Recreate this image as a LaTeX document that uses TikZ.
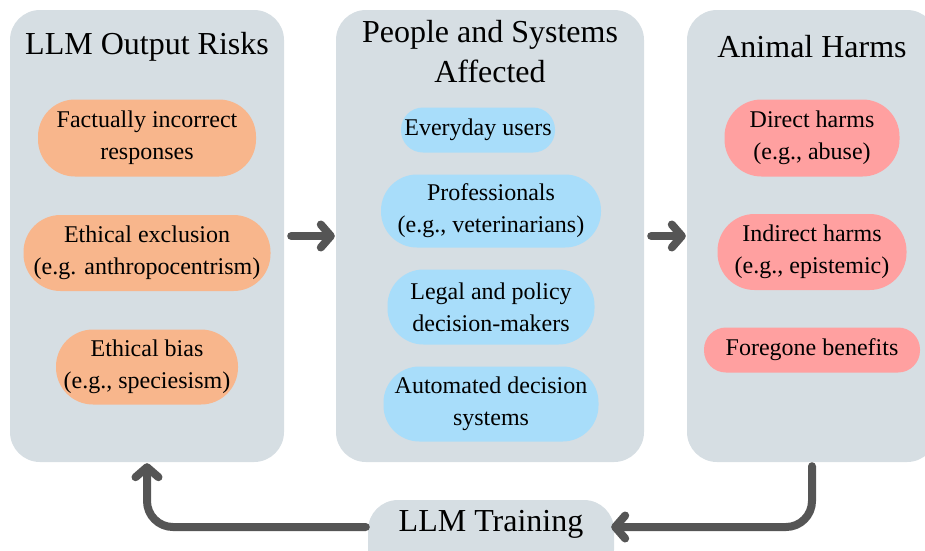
\documentclass[tikz,border=0pt]{standalone}
\usepackage{fontspec}
\setmainfont{Liberation Serif}
\newfontfamily\diagfont{Liberation Serif}
\usetikzlibrary{arrows.meta}
\definecolor{panelc}{RGB}{214,222,227}
\definecolor{orangec}{RGB}{248,182,140}
\definecolor{bluec}{RGB}{168,221,250}
\definecolor{pinkc}{RGB}{255,160,160}
\definecolor{arrc}{RGB}{85,85,85}
\tikzset{
  panelbox/.style={fill=panelc, rounded corners=30pt, inner sep=0pt},
  titletext/.style={font=\diagfont\fontsize{32}{40}\selectfont, align=center, inner sep=0pt},
  pill/.style={inner sep=0pt, align=center, font=\diagfont\fontsize{24}{32}\selectfont},
  orangepill/.style={pill, rounded corners=37pt, fill=orangec},
  bluepill/.style={pill, rounded corners=36pt, fill=bluec},
  pinkpill/.style={pill, rounded corners=37pt, fill=pinkc},
  flowarrow/.style={draw=arrc, line width=8pt, line cap=round, line join=round,
    -{Straight Barb[round, length=10pt, width=23pt]}},
}
\begin{document}
\begin{tikzpicture}[x=1pt,y=-1pt]
\useasboundingbox (0,0) rectangle (925,550);
\clip (0,0) rectangle (925,550);
% panels
\node[panelbox, minimum width=274pt, minimum height=452pt] (lp) at (147,236) {};
\node[panelbox, minimum width=308pt, minimum height=452pt] (mp) at (490,236) {};
\node[panelbox, minimum width=250pt, minimum height=452pt] (rp) at (812,236) {};
\node[panelbox, minimum width=246pt, minimum height=80pt] (train) at (491,540) {};
\node[titletext] (traint) at (491,524) {LLM Training};
\coordinate (trainline) at (491,527);
% titles
\node[titletext] (lpt) at (147,47) {LLM Output Risks};
\node[titletext] (mpt) at (490,52) {People and Systems\\Affected};
\node[titletext] (rpt) at (812,47) {Animal Harms};
% left items
\node[orangepill, minimum width=218pt, minimum height=77pt] (l1) at (147,138) {Factually incorrect\\responses};
\node[orangepill, minimum width=247pt, minimum height=76pt] (l2) at (147,253) {Ethical exclusion\\(e.g. anthropocentrism)};
\node[orangepill, minimum width=182pt, minimum height=75pt] (l3) at (147,367) {Ethical bias\\(e.g., speciesism)};
% middle items
\node[bluepill, rounded corners=22pt, minimum width=154pt, minimum height=45pt] (m1) at (478,130) {Everyday users};
\node[bluepill, minimum width=220pt, minimum height=73pt] (m2) at (491,211) {Professionals\\(e.g., veterinarians)};
\node[bluepill, minimum width=207pt, minimum height=75pt] (m3) at (491,307) {Legal and policy\\decision-makers};
\node[bluepill, minimum width=215pt, minimum height=75pt] (m4) at (491,404) {Automated decision\\systems};
% right items
\node[pinkpill, minimum width=175pt, minimum height=77pt] (r1) at (812,138) {Direct harms\\(e.g., abuse)};
\node[pinkpill, minimum width=189pt, minimum height=76pt] (r2) at (812,252) {Indirect harms\\(e.g., epistemic)};
\node[pinkpill, rounded corners=22pt, minimum width=216pt, minimum height=45pt] (r3) at (812,350) {Foregone benefits};
% connectors
\draw[flowarrow, shorten <=7pt, shorten >=1pt] (lp.east) -- (mp.west);
\draw[flowarrow, shorten <=7pt, shorten >=1pt] (mp.east) -- (rp.west);
\draw[flowarrow, rounded corners=26pt, shorten <=4pt, shorten >=-3pt] (rp.south) |- (train.east |- trainline);
\draw[flowarrow, rounded corners=26pt, shorten <=2pt, shorten >=1pt] (train.west |- trainline) -| (lp.south);
\end{tikzpicture}
\end{document}
